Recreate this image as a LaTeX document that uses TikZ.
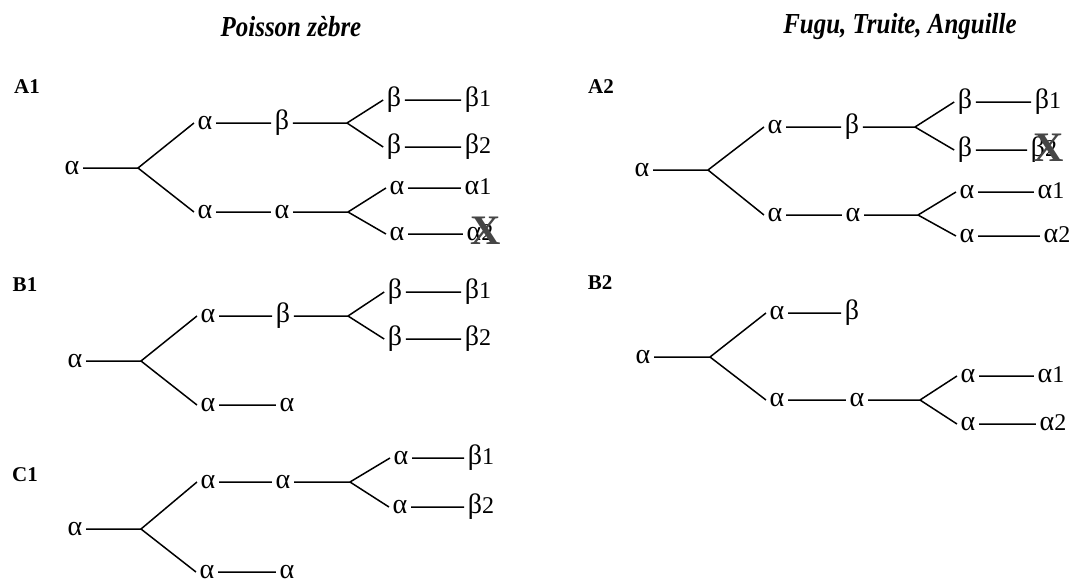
\documentclass[tikz,border=0pt]{standalone}
\usepackage{fontspec}
\setmainfont{Liberation Serif}
\usepackage{xcolor}
\definecolor{lostgray}{RGB}{70, 70, 70}

\newcommand{\ga}{{\fontsize{28}{28}\selectfont α}}
\newcommand{\gb}{{\fontsize{28}{28}\selectfont β}}

\tikzset{
  gene/.style={font=\fontsize{24}{24}\selectfont, inner xsep=3.5pt, inner ysep=0pt,
               text height=18pt, text depth=6pt},
  branch/.style={line width=1.5pt},
  panel/.style={font=\bfseries\fontsize{21}{21}\selectfont, inner sep=0pt},
  species/.style={font=\bfseries\itshape\fontsize{29}{29}\selectfont, inner sep=0pt,
                  xscale=0.86, transform shape},
  lost/.style={font=\bfseries\fontsize{42}{42}\selectfont, text=lostgray, inner sep=0pt}
}

\begin{document}
\begin{tikzpicture}[x=1pt, y=-1pt]
  \useasboundingbox (0,0) rectangle (1074,584);
  \fill[white] (0,0) rectangle (1074,584);

  % species titles
  \node[species] (zebra) at (291,27) {Poisson zèbre};
  \node[species] (others) at (900,27) {Fugu, Truite, Anguille};

  % panel letters
  \node[panel] (A1) at (27,87) {A1};
  \node[panel] (B1) at (25,285) {B1};
  \node[panel] (C1) at (25,475) {C1};
  \node[panel] (A2) at (601,87) {A2};
  \node[panel] (B2) at (600,283) {B2};

  % A1
  \begin{scope}[shift={(72,168)}]
    \node[gene] (a1r) at (0,0) {\ga};
    \coordinate (a1f) at (66,0);
    \node[gene] (a1u) at (133,-45) {\ga};
    \node[gene] (a1uu) at (210,-45) {\gb};
    \coordinate (a1uf) at (275,-45);
    \node[gene] (a1ua) at (322,-68) {\gb};
    \node[gene] (a1ub) at (322,-21) {\gb};
    \node[gene] (a1u1) at (406,-68) {\gb1};
    \node[gene] (a1u2) at (406,-21) {\gb2};
    \node[gene] (a1l) at (133,44) {\ga};
    \node[gene] (a1ll) at (210,44) {\ga};
    \coordinate (a1lf) at (276,44);
    \node[gene] (a1la) at (325,20) {\ga};
    \node[gene] (a1lb) at (325,66) {\ga};
    \node[gene] (a1l1) at (406,20) {\ga1};
    \node[gene] (a1l2) at (408,66) {\ga2};
    \node[lost] (a1x) at (414,63) {X};
    \draw[branch] (a1r) -- (a1f) (a1f) -- (a1u.west) (a1f) -- (a1l.west)
      (a1u) -- (a1uu) (a1uu) -- (a1uf) (a1uf) -- (a1ua.west) (a1uf) -- (a1ub.west)
      (a1ua) -- (a1u1) (a1ub) -- (a1u2)
      (a1l) -- (a1ll) (a1ll) -- (a1lf) (a1lf) -- (a1la.west) (a1lf) -- (a1lb.west)
      (a1la) -- (a1l1) (a1lb) -- (a1l2);
  \end{scope}

  % B1
  \begin{scope}[shift={(75,361)}]
    \node[gene] (b1r) at (0,0) {\ga};
    \coordinate (b1f) at (66,0);
    \node[gene] (b1u) at (133,-45) {\ga};
    \node[gene] (b1uu) at (208,-45) {\gb};
    \coordinate (b1uf) at (273,-45);
    \node[gene] (b1ua) at (320,-69) {\gb};
    \node[gene] (b1ub) at (320,-22) {\gb};
    \node[gene] (b1u1) at (403,-69) {\gb1};
    \node[gene] (b1u2) at (403,-22) {\gb2};
    \node[gene] (b1l) at (133,44) {\ga};
    \node[gene] (b1ll) at (212,44) {\ga};
    \draw[branch] (b1r) -- (b1f) (b1f) -- (b1u.west) (b1f) -- (b1l.west)
      (b1u) -- (b1uu) (b1uu) -- (b1uf) (b1uf) -- (b1ua.west) (b1uf) -- (b1ub.west)
      (b1ua) -- (b1u1) (b1ub) -- (b1u2)
      (b1l) -- (b1ll);
  \end{scope}

  % C1
  \begin{scope}[shift={(75,529)}]
    \node[gene] (c1r) at (0,0) {\ga};
    \coordinate (c1f) at (66,0);
    \node[gene] (c1u) at (133,-47) {\ga};
    \node[gene] (c1uu) at (208,-47) {\ga};
    \coordinate (c1uf) at (275,-47);
    \node[gene] (c1ua) at (326,-71) {\ga};
    \node[gene] (c1ub) at (325,-22) {\ga};
    \node[gene] (c1u1) at (406,-71) {\gb1};
    \node[gene] (c1u2) at (406,-22) {\gb2};
    \node[gene] (c1l) at (132,43) {\ga};
    \node[gene] (c1ll) at (212,43) {\ga};
    \draw[branch] (c1r) -- (c1f) (c1f) -- (c1u.west) (c1f) -- (c1l.west)
      (c1u) -- (c1uu) (c1uu) -- (c1uf) (c1uf) -- (c1ua.west) (c1uf) -- (c1ub.west)
      (c1ua) -- (c1u1) (c1ub) -- (c1u2)
      (c1l) -- (c1ll);
  \end{scope}

  % A2
  \begin{scope}[shift={(642,170)}]
    \node[gene] (a2r) at (0,0) {\ga};
    \coordinate (a2f) at (66,0);
    \node[gene] (a2u) at (133,-43) {\ga};
    \node[gene] (a2uu) at (210,-43) {\gb};
    \coordinate (a2uf) at (273,-43);
    \node[gene] (a2ua) at (323,-68) {\gb};
    \node[gene] (a2ub) at (323,-20) {\gb};
    \node[gene] (a2u1) at (406,-68) {\gb1};
    \node[gene] (a2u2) at (402,-20) {\gb2};
    \node[lost] (a2x) at (407,-22) {X};
    \node[gene] (a2l) at (133,45) {\ga};
    \node[gene] (a2ll) at (211,45) {\ga};
    \coordinate (a2lf) at (276,45);
    \node[gene] (a2la) at (325,22) {\ga};
    \node[gene] (a2lb) at (325,66) {\ga};
    \node[gene] (a2l1) at (409,22) {\ga1};
    \node[gene] (a2l2) at (415,66) {\ga2};
    \draw[branch] (a2r) -- (a2f) (a2f) -- (a2u.west) (a2f) -- (a2l.west)
      (a2u) -- (a2uu) (a2uu) -- (a2uf) (a2uf) -- (a2ua.west) (a2uf) -- (a2ub.west)
      (a2ua) -- (a2u1) (a2ub) -- (a2u2)
      (a2l) -- (a2ll) (a2ll) -- (a2lf) (a2lf) -- (a2la.west) (a2lf) -- (a2lb.west)
      (a2la) -- (a2l1) (a2lb) -- (a2l2);
  \end{scope}

  % B2
  \begin{scope}[shift={(643,357)}]
    \node[gene] (b2r) at (0,0) {\ga};
    \coordinate (b2f) at (67,0);
    \node[gene] (b2u) at (134,-44) {\ga};
    \node[gene] (b2uu) at (209,-44) {\gb};
    \node[gene] (b2l) at (134,43) {\ga};
    \node[gene] (b2ll) at (214,43) {\ga};
    \coordinate (b2lf) at (277,43);
    \node[gene] (b2la) at (325,19) {\ga};
    \node[gene] (b2lb) at (325,67) {\ga};
    \node[gene] (b2l1) at (408,19) {\ga1};
    \node[gene] (b2l2) at (410,67) {\ga2};
    \draw[branch] (b2r) -- (b2f) (b2f) -- (b2u.west) (b2f) -- (b2l.west)
      (b2u) -- (b2uu)
      (b2l) -- (b2ll) (b2ll) -- (b2lf) (b2lf) -- (b2la.west) (b2lf) -- (b2lb.west)
      (b2la) -- (b2l1) (b2lb) -- (b2l2);
  \end{scope}
\end{tikzpicture}
\end{document}
